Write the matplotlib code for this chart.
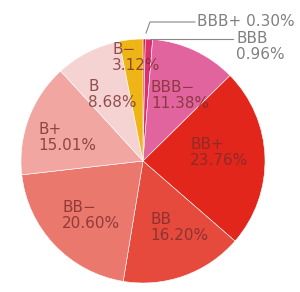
import matplotlib.pyplot as plt

plt.rcParams['font.family'] = ['DejaVu Sans']

ratings = ["BBB+", "BBB", "BBB−", "BB+", "BB", "BB−", "B+", "B", "B−"]
shares = [0.30, 0.96, 11.38, 23.76, 16.20, 20.60, 15.01, 8.68, 3.12]
colors = ["#c81a3a", "#dc2f6e", "#e2649e", "#e2261c", "#e64a3c",
          "#ea786d", "#f1a6a2", "#f6d3d3", "#efb516"]

H = 292
# label anchor (top-left, pixels from figure top-left) for each slice
label_pos = {
    "BBB−": (151, 80), "BB+": (190, 137), "BB": (150, 212), "BB−": (62, 200),
    "B+": (38, 122), "B": (88, 79), "B−": (112, 42),
}

fig = plt.figure(figsize=(3.0, 2.92), dpi=100)
ax = fig.add_axes([0, 0, 1, 1])

wedges, _ = ax.pie(shares, colors=colors, startangle=90, counterclock=False,
                   center=(143, H - 161), radius=122, frame=True,
                   wedgeprops=dict(edgecolor='white', linewidth=0.4))
ax.set_xlim(0, 300)
ax.set_ylim(0, H)
ax.set_aspect('equal')
ax.axis('off')

txt_c = "#7a2c2c"
for r, s in zip(ratings, shares):
    if r in label_pos:
        x, y = label_pos[r]
        ax.text(x, H - y, f"{r}\n{s:.2f}%", color=txt_c, alpha=0.8,
                fontsize=11, ha='left', va='top', linespacing=1.1)

# leaders for the two thin slices
ax.plot([146, 150, 195], [H - 33, H - 22, H - 22], color='#888888', lw=0.8)
ax.plot([150, 233], [H - 39, H - 39], color='#888888', lw=0.8)
ax.text(197, H - 22, f"{ratings[0]} {shares[0]:.2f}%", color='#808080',
        fontsize=11, ha='left', va='center')
ax.text(236, H - 31, f"{ratings[1]}\n{shares[1]:.2f}%", color='#808080',
        fontsize=11, ha='left', va='top', linespacing=1.1)

fig.savefig("out.png", dpi=100)
